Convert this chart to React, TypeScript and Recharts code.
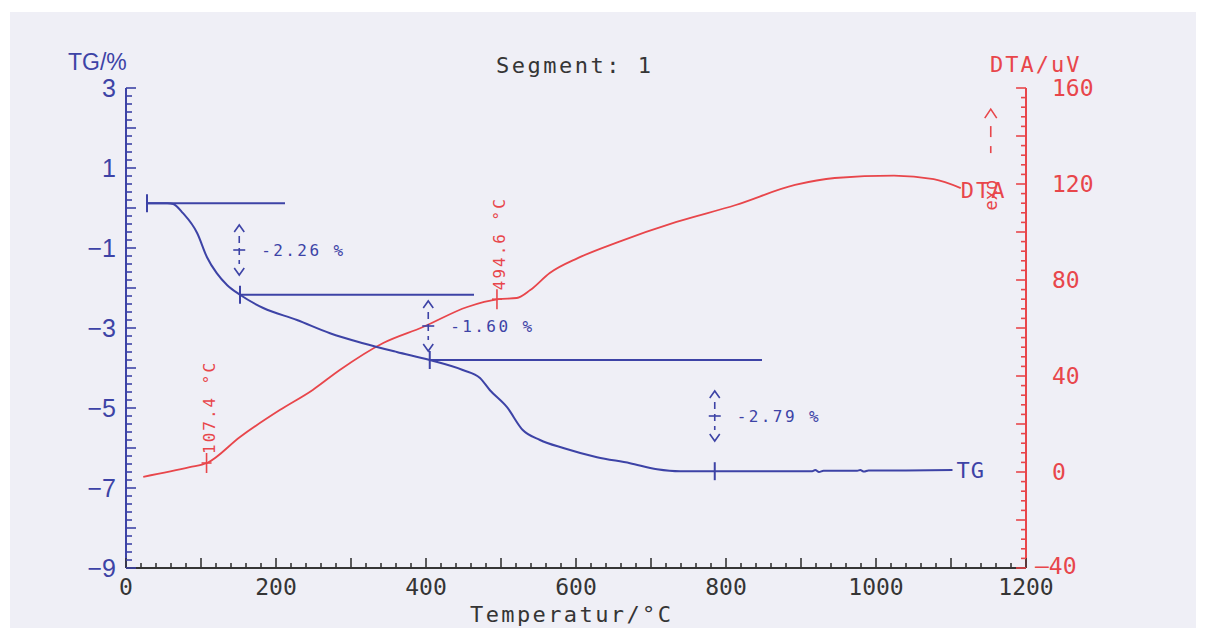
import React from 'react'
import { ComposedChart, Line, XAxis, YAxis, ReferenceLine, ReferenceDot } from 'recharts'

const BLUE = '#3d43a6'
const RED = '#e8464b'
const INK = '#353535'
const MONO = '"DejaVu Sans Mono", monospace'
const SANS = '"Liberation Sans", Arial, sans-serif'

// TG curve: temperature (°C) -> mass change (%)
const tgTemp = [28, 55, 63, 76, 95, 108, 121, 135, 152, 183, 228, 272, 316, 361, 405, 449, 472, 485, 508, 529, 552, 583, 628, 672, 708, 739, 785, 850, 915, 919, 924, 930, 975, 979, 984, 990, 1040, 1102]
const tgMass = [0.12, 0.12, 0.1, -0.13, -0.63, -1.23, -1.63, -1.93, -2.17, -2.5, -2.8, -3.13, -3.38, -3.6, -3.8, -4.05, -4.25, -4.55, -4.98, -5.55, -5.8, -6.0, -6.23, -6.38, -6.53, -6.58, -6.58, -6.58, -6.58, -6.55, -6.6, -6.57, -6.57, -6.55, -6.59, -6.56, -6.56, -6.55]

// DTA curve: temperature (°C) -> signal (uV)
const dtaTemp = [23, 85, 108, 152, 205, 249, 285, 343, 396, 455, 497, 521, 539, 565, 603, 656, 734, 813, 892, 945, 1024, 1077, 1113]
const dtaVal = [-2, 2, 3.75, 14.6, 25.8, 34.2, 42.5, 53.75, 60.4, 68.75, 72, 72.5, 75.8, 82.9, 89.2, 95.8, 104.2, 111.25, 119.6, 122.5, 123.5, 122, 118.3]

// step evaluation
const STEP_LINES = [
  { from: 28, to: 212, m: 0.12 },
  { from: 152, to: 464, m: -2.17 },
  { from: 405, to: 848, m: -3.8 },
]
const STEP_MARKS = [
  { t: 28, m: 0.12 },
  { t: 152, m: -2.17 },
  { t: 405, m: -3.8 },
  { t: 785, m: -6.58 },
]
const LOSS_T = [151, 403, 785]
const LOSS_MID = [-1.05, -2.95, -5.2]
const LOSS_TEXT = ['-2.26 %', '-1.60 %', '-2.79 %']

const DTA_PEAKS = [
  { t: 107.4, v: 3.75, label: '107.4 °C' },
  { t: 494.6, v: 72, label: '494.6 °C' },
]

// axes
const X_LABELS = [0, 200, 400, 600, 800, 1000, 1200]
const TG_LABELS = [3, 1, -1, -3, -5, -7, -9]
const DTA_LABELS = [160, 120, 80, 40, 0, -40]
const X_TICKS = Array.from({ length: 61 }, (_, i) => i * 20)
const TG_TICKS = Array.from({ length: 61 }, (_, i) => Math.round((-9 + i * 0.2) * 10) / 10)
const DTA_TICKS = Array.from({ length: 51 }, (_, i) => -40 + i * 4)

const tgData = tgTemp.map((t, i) => ({ t, tg: tgMass[i] }))
const dtaData = dtaTemp.map((t, i) => ({ t, dta: dtaVal[i] }))

const isInt = (v: number) => Math.abs(v - Math.round(v)) < 1e-6
const minus = (v: number) => String(v).replace('-', '\u2212')

const LeftTick = (p: any) => {
  const { x, y, payload } = p
  const v = payload.value
  return (
    <g>
      <line x1={x} x2={x + (isInt(v) ? 10 : 6)} y1={y} y2={y} stroke={BLUE} strokeWidth={1.6} />
      {TG_LABELS.includes(v) && (
        <text x={x - 10} y={y} textAnchor="end" dominantBaseline="central" fill={BLUE} fontFamily={SANS} fontSize={25}>{minus(v)}</text>
      )}
    </g>
  )
}

const RightTick = (p: any) => {
  const { x, y, payload } = p
  const v = payload.value
  return (
    <g>
      <line x1={x} x2={x - (v % 20 === 0 ? 10 : 5)} y1={y} y2={y} stroke={RED} strokeWidth={1.6} />
      {DTA_LABELS.includes(v) && (
        <text x={x + (v < 0 ? 9 : 26)} y={v < 0 ? y - 2 : y} textAnchor="start" dominantBaseline="central" fill={RED} fontFamily={MONO} fontSize={23}>{v < 0 ? '\u2013' + Math.abs(v) : v}</text>
      )}
    </g>
  )
}

const BottomTick = (p: any) => {
  const { x, y, payload } = p
  const v = payload.value
  return (
    <g>
      <line x1={x} x2={x} y1={y} y2={y - (v % 100 === 0 ? 10 : 5)} stroke={INK} strokeWidth={1.6} />
      {X_LABELS.includes(v) && (
        <text x={x} y={y + 19} textAnchor="middle" dominantBaseline="central" fill={INK} fontFamily={MONO} fontSize={23}>{v}</text>
      )}
    </g>
  )
}

const VTick = ({ cx, cy }: any) => (
  <line x1={cx} x2={cx} y1={cy - 9} y2={cy + 9} stroke={BLUE} strokeWidth={2} />
)

const LossArrow = (text: string) => ({ cx, cy }: any) => (
  <g stroke={BLUE} strokeWidth={1.6} fill="none">
    <polyline points={`${cx - 5},${cy - 18} ${cx},${cy - 25} ${cx + 5},${cy - 18}`} />
    <line x1={cx} x2={cx} y1={cy - 14} y2={cy + 14} strokeDasharray="7 5" />
    <line x1={cx - 6} x2={cx + 6} y1={cy} y2={cy} />
    <polyline points={`${cx - 5},${cy + 18} ${cx},${cy + 25} ${cx + 5},${cy + 18}`} />
    <text x={cx + 22} y={cy} dominantBaseline="central" fill={BLUE} stroke="none" fontFamily={MONO} fontSize={16} letterSpacing={2.4}>{text}</text>
  </g>
)

const PeakMark = (label: string) => ({ cx, cy }: any) => (
  <g>
    <line x1={cx} x2={cx} y1={cy - 10} y2={cy + 10} stroke={RED} strokeWidth={1.6} />
    <line x1={cx - 5} x2={cx + 5} y1={cy} y2={cy} stroke={RED} strokeWidth={1.6} />
    <text x={0} y={0} transform={`translate(${cx + 3},${cy - 9}) rotate(-90)`} dominantBaseline="central" fill={RED} fontFamily={MONO} fontSize={16} letterSpacing={2}>{label}</text>
  </g>
)

const TgEnd = ({ cx, cy }: any) => (
  <text x={cx + 4} y={cy} dominantBaseline="central" fill={BLUE} fontFamily={MONO} fontSize={22} letterSpacing={1}>TG</text>
)

const DtaEnd = ({ cx, cy }: any) => (
  <g>
    <text x={cx} y={cy + 2} dominantBaseline="central" fill={RED} fontFamily={MONO} fontSize={22} letterSpacing={2}>DTA</text>
    <g stroke={RED} strokeWidth={1.6} fill="none">
      <polyline points={`${cx + 24},${cy - 70} ${cx + 30},${cy - 79} ${cx + 36},${cy - 70}`} />
      <line x1={cx + 30} x2={cx + 30} y1={cy - 62} y2={cy - 51} />
      <line x1={cx + 30} x2={cx + 30} y1={cy - 42} y2={cy - 35} />
    </g>
    <text x={0} y={0} transform={`translate(${cx + 30},${cy + 7}) rotate(-90)`} textAnchor="middle" dominantBaseline="central" fill={RED} fontFamily={MONO} fontSize={17}>exo</text>
  </g>
)

export default function App() {
  const lastTg = tgData[tgData.length - 1]
  const lastDta = dtaData[dtaData.length - 1]
  return (
    <div style={{ position: 'absolute', left: 0, top: 0, width: 1210, height: 640, background: '#ffffff' }}>
      <div style={{ position: 'absolute', left: 10, top: 12, width: 1186, height: 616, background: '#efeff6' }} />
      <div style={{ position: 'absolute', left: 0, top: 0 }}>
        <ComposedChart width={1210} height={640} margin={{ top: 88, right: 104, left: 66, bottom: 32 }}>
          <XAxis type="number" dataKey="t" domain={[0, 1200]} ticks={X_TICKS} interval={0} allowDataOverflow
            height={40} tickSize={0} tickMargin={0} tickLine={false} axisLine={{ stroke: INK, strokeWidth: 2 }} tick={BottomTick} />
          <YAxis yAxisId="tg" orientation="left" domain={[-9, 3]} ticks={TG_TICKS} interval={0} allowDataOverflow
            width={60} tickSize={0} tickMargin={0} tickLine={false} axisLine={{ stroke: BLUE, strokeWidth: 2 }} tick={LeftTick} />
          <YAxis yAxisId="dta" orientation="right" domain={[-40, 160]} ticks={DTA_TICKS} interval={0} allowDataOverflow
            width={80} tickSize={0} tickMargin={0} tickLine={false} axisLine={{ stroke: RED, strokeWidth: 2 }} tick={RightTick} />

          {STEP_LINES.map((s, i) => (
            <ReferenceLine key={'s' + i} yAxisId="tg" segment={[{ x: s.from, y: s.m }, { x: s.to, y: s.m }]} stroke={BLUE} strokeWidth={2} />
          ))}

          <Line data={dtaData} yAxisId="dta" dataKey="dta" type="monotone" stroke={RED} strokeWidth={1.8} dot={false} isAnimationActive={false} />
          <Line data={tgData} yAxisId="tg" dataKey="tg" type="monotone" stroke={BLUE} strokeWidth={2} dot={false} isAnimationActive={false} />

          {STEP_MARKS.map((m, i) => (
            <ReferenceDot key={'m' + i} yAxisId="tg" x={m.t} y={m.m} shape={VTick} />
          ))}
          {LOSS_T.map((t, i) => (
            <ReferenceDot key={'l' + i} yAxisId="tg" x={t} y={LOSS_MID[i]} shape={LossArrow(LOSS_TEXT[i])} />
          ))}
          {DTA_PEAKS.map((p, i) => (
            <ReferenceDot key={'p' + i} yAxisId="dta" x={p.t} y={p.v} shape={PeakMark(p.label)} />
          ))}
          <ReferenceDot yAxisId="tg" x={lastTg.t} y={lastTg.tg} shape={TgEnd} />
          <ReferenceDot yAxisId="dta" x={lastDta.t} y={lastDta.dta} shape={DtaEnd} />
        </ComposedChart>
      </div>
      <div style={{ position: 'absolute', left: 68, top: 50, color: BLUE, fontFamily: SANS, fontSize: 23, lineHeight: 1.1 }}>TG/%</div>
      <div style={{ position: 'absolute', left: 496, top: 54, color: INK, fontFamily: MONO, fontSize: 22, letterSpacing: 2.5, lineHeight: 1.1 }}>Segment: 1</div>
      <div style={{ position: 'absolute', left: 990, top: 54, color: RED, fontFamily: MONO, fontSize: 22, letterSpacing: 2, lineHeight: 1 }}>DTA/uV</div>
      <div style={{ position: 'absolute', left: 470, top: 604, color: INK, fontFamily: MONO, fontSize: 22, letterSpacing: 2.4, lineHeight: 1 }}>Temperatur/°C</div>
    </div>
  )
}
